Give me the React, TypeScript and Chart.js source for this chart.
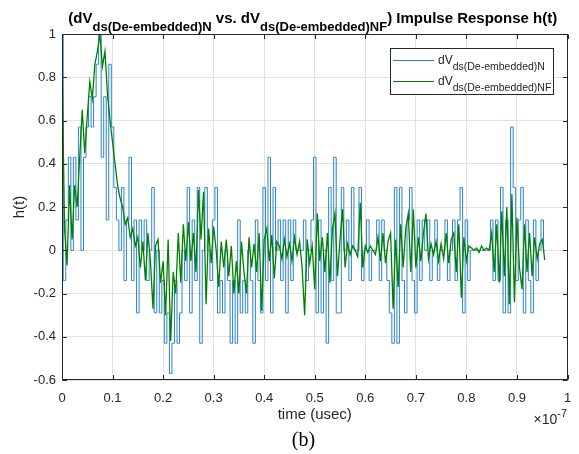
import React, { useEffect, useRef } from 'react';
import { Chart, registerables } from 'chart.js';

Chart.register(...registerables);

// sample spacing on the time axis (axis is in units of 1e-7 s)
const TIME_STEP = 0.005;

// dV ds(De-embedded)N  (blue, quantised)
const seriesN: number[] = [
  1.0, -0.14, 0.14, 0.43, 0.0, 0.43, 0.14, 0.57, 0.0, 0.43,
  0.57, 0.71, 0.57, 0.71, 0.86, 1.0, 0.43, 0.71, 0.14, 0.86,
  0.57, 0.29, 0.14, 0.0, 0.29, -0.14, 0.14, 0.43, -0.14, 0.14,
  -0.29, 0.14, 0.0, 0.14, -0.14, 0.0, 0.29, -0.29, 0.0, -0.29,
  -0.14, -0.43, -0.29, -0.57, -0.43, -0.14, -0.43, -0.29, 0.0, -0.14,
  0.29, -0.29, 0.14, -0.14, 0.29, -0.43, 0.0, 0.29, 0.0, -0.14,
  0.14, 0.29, -0.29, -0.14, -0.29, 0.0, -0.14, -0.43, -0.14, -0.43,
  0.14, -0.29, -0.14, -0.29, 0.0, -0.14, -0.43, 0.14, -0.14, -0.29,
  0.29, -0.14, 0.43, -0.29, 0.29, 0.0, 0.14, -0.14, 0.14, -0.29,
  0.14, -0.14, 0.14, 0.0, 0.0, 0.0, 0.14, -0.14, 0.0, 0.14,
  0.43, -0.29, 0.14, -0.29, 0.0, -0.43, 0.29, -0.14, 0.43, -0.29,
  -0.29, 0.29, 0.0, 0.14, -0.14, 0.29, 0.0, 0.0, 0.29, -0.14,
  0.0, 0.14, -0.14, 0.0, 0.0, 0.14, -0.14, 0.14, 0.0, -0.14,
  -0.29, -0.43, 0.29, -0.43, 0.29, -0.14, -0.29, 0.14, 0.29, -0.14,
  -0.29, 0.14, -0.14, 0.14, 0.0, 0.14, -0.14, 0.0, 0.14, -0.14,
  0.0, 0.0, 0.14, -0.14, 0.0, 0.14, -0.14, 0.14, 0.29, -0.29,
  0.14, -0.14, 0.0, 0.0, 0.0, 0.0, 0.0, 0.0, 0.0, 0.0,
  0.14, -0.14, 0.14, -0.14, 0.29, -0.29, 0.14, -0.29, 0.57, 0.29,
  -0.14, 0.14, 0.29, -0.29, 0.14, -0.14, -0.29, 0.14, -0.14, 0.0,
  0.14, 0.0,
];

// dV ds(De-embedded)NF  (green)
const seriesNF: number[] = [
  0.9, 0.1, -0.07, 0.3, 0.05, 0.3, 0.2, 0.43, 0.65, 0.45,
  0.62, 0.78, 0.7, 0.86, 0.92, 1.0, 0.85, 0.92, 0.72, 0.6,
  0.5, 0.4, 0.3, 0.24, 0.2, 0.12, 0.15, 0.06, 0.1, 0.02,
  0.06, -0.08, 0.04, -0.14, 0.08, -0.05, -0.27, 0.02, 0.05, -0.15,
  -0.05, -0.3, 0.05, -0.42, -0.1, -0.2, 0.08, -0.15, 0.12, -0.05,
  0.13, -0.05, 0.08, -0.1, 0.28, 0.05, 0.27, -0.25, 0.1, -0.06,
  0.11, 0.0, -0.17, 0.04, -0.08, 0.05, -0.12, 0.02, -0.2, -0.05,
  -0.2, 0.04, -0.1, -0.2, 0.06, -0.08, 0.03, -0.1, 0.08, -0.28,
  0.05, 0.1, -0.05, 0.07, -0.13, 0.04, 0.02, -0.04, 0.05, -0.03,
  0.03, -0.05, 0.06, -0.02, 0.04, -0.08, -0.3, 0.05, -0.06, 0.02,
  -0.18, 0.17, -0.05, 0.06, -0.1, 0.08, -0.15, 0.1, 0.17, -0.12,
  0.05, 0.19, -0.08, 0.03, -0.02, 0.02, 0.0, -0.03, 0.22, -0.08,
  0.02, -0.01, 0.02, 0.0, -0.02, 0.06, -0.05, 0.08, -0.06, 0.04,
  0.08, -0.27, 0.05, -0.17, 0.12, -0.08, 0.1, 0.17, -0.1, 0.19,
  -0.08, 0.06, -0.05, 0.08, 0.17, -0.04, 0.03, -0.02, 0.04, -0.05,
  0.03, -0.04, 0.08, -0.06, 0.05, 0.08, -0.1, 0.12, -0.22, 0.06,
  -0.05, 0.02, 0.01, 0.0, 0.01, -0.01, 0.02, 0.0, 0.01, 0.0,
  0.08, -0.1, 0.12, -0.15, 0.18, -0.12, 0.2, -0.25, 0.26, -0.24,
  0.15, -0.08, -0.18, 0.12, -0.1, 0.08, -0.12, 0.06, -0.04, 0.03,
  0.05, -0.045,
];

const xTickValues = [0, 0.1, 0.2, 0.3, 0.4, 0.5, 0.6, 0.7, 0.8, 0.9, 1];
const xTickLabels = ['0', '0.1', '0.2', '0.3', '0.4', '0.5', '0.6', '0.7', '0.8', '0.9', '1'];
const yTickValues = [-0.6, -0.4, -0.2, 0, 0.2, 0.4, 0.6, 0.8, 1];
const yTickLabels = ['-0.6', '-0.4', '-0.2', '0', '0.2', '0.4', '0.6', '0.8', '1'];

const legendMain = ['dV', 'dV'];
const legendSub = ['ds(De-embedded)N', 'ds(De-embedded)NF'];

const titleParts: { text: string; sub: boolean }[] = [
  { text: '(dV', sub: false },
  { text: 'ds(De-embedded)N', sub: true },
  { text: ' vs. dV', sub: false },
  { text: 'ds(De-embedded)NF', sub: true },
  { text: ') Impulse Response h(t)', sub: false },
];

const xAxisTitle = 'time (usec)';
const yAxisTitle = 'h(t)';
const exponentBase = '\u00d710';
const exponentPower = '-7';
const caption = '(b)';

const BLUE = '#2a84c9';
const GREEN = '#008000';
const AXIS = '#262626';
const SANS = '"Liberation Sans", Arial, Helvetica, sans-serif';
const SERIF = '"Liberation Serif", "Times New Roman", serif';

const toPoints = (vals: number[]) => vals.map((v, i) => ({ x: i * TIME_STEP, y: v }));

const overlay = {
  id: 'overlay',
  beforeDraw(chart: any) {
    const { ctx, width, height } = chart;
    ctx.save();
    ctx.fillStyle = '#ffffff';
    ctx.fillRect(0, 0, width, height);
    ctx.restore();
  },
  afterDraw(chart: any) {
    const { ctx, chartArea: a } = chart;
    const xs = chart.scales.x;
    const ys = chart.scales.y;
    const L = Math.round(a.left) + 0.5;
    const R = Math.round(a.right) - 0.5;
    const T = Math.round(a.top) + 0.5;
    const B = Math.round(a.bottom) - 0.5;
    ctx.save();

    // axes box
    ctx.strokeStyle = AXIS;
    ctx.lineWidth = 1;
    ctx.strokeRect(L, T, R - L, B - T);

    // inward tick marks
    const TL = 4.5;
    ctx.beginPath();
    xTickValues.forEach((v) => {
      const px = Math.round(xs.getPixelForValue(v)) + 0.5;
      ctx.moveTo(px, B); ctx.lineTo(px, B - TL);
      ctx.moveTo(px, T); ctx.lineTo(px, T + TL);
    });
    yTickValues.forEach((v) => {
      const py = Math.round(ys.getPixelForValue(v)) + 0.5;
      ctx.moveTo(L, py); ctx.lineTo(L + TL, py);
      ctx.moveTo(R, py); ctx.lineTo(R - TL, py);
    });
    ctx.stroke();

    // tick labels
    ctx.fillStyle = AXIS;
    ctx.font = `13px ${SANS}`;
    ctx.textAlign = 'center';
    ctx.textBaseline = 'alphabetic';
    xTickValues.forEach((v, i) => {
      ctx.fillText(xTickLabels[i], xs.getPixelForValue(v), 401.5);
    });
    ctx.textAlign = 'right';
    ctx.textBaseline = 'middle';
    yTickValues.forEach((v, i) => {
      ctx.fillText(yTickLabels[i], 56, ys.getPixelForValue(v));
    });

    // axis titles
    ctx.font = `15px ${SANS}`;
    ctx.textAlign = 'center';
    ctx.textBaseline = 'alphabetic';
    ctx.fillText(xAxisTitle, (a.left + a.right) / 2, 419);
    ctx.save();
    ctx.translate(20, (a.top + a.bottom) / 2);
    ctx.rotate(-Math.PI / 2);
    ctx.textBaseline = 'middle';
    ctx.fillText(yAxisTitle, 0, 0);
    ctx.restore();

    // x10^-7 exponent
    ctx.textAlign = 'left';
    ctx.font = `11px ${SANS}`;
    const pw = ctx.measureText(exponentPower).width;
    ctx.font = `14px ${SANS}`;
    const bw = ctx.measureText(exponentBase).width;
    const ex = 567 - pw - bw;
    ctx.fillText(exponentBase, ex, 424);
    ctx.font = `11px ${SANS}`;
    ctx.fillText(exponentPower, ex + bw, 416.5);

    // title with subscripts
    const fMain = `bold 15px ${SANS}`;
    const fSub = `bold 13px ${SANS}`;
    let total = 0;
    titleParts.forEach((p) => {
      ctx.font = p.sub ? fSub : fMain;
      total += ctx.measureText(p.text).width;
    });
    let tx = (a.left + a.right) / 2 - 2 - total / 2;
    ctx.fillStyle = '#000000';
    titleParts.forEach((p) => {
      ctx.font = p.sub ? fSub : fMain;
      ctx.fillText(p.text, tx, p.sub ? 30.5 : 23);
      tx += ctx.measureText(p.text).width;
    });

    // legend
    const lx = 390.5, ly = 48.5, lw = 163, lh = 46;
    ctx.fillStyle = '#ffffff';
    ctx.fillRect(lx, ly, lw, lh);
    ctx.strokeStyle = AXIS;
    ctx.lineWidth = 1;
    ctx.strokeRect(lx, ly, lw, lh);
    const rows = [60.5, 81.5];
    const colors = [BLUE, GREEN];
    rows.forEach((ry, i) => {
      ctx.strokeStyle = colors[i];
      ctx.lineWidth = 1;
      ctx.beginPath();
      ctx.moveTo(393, ry);
      ctx.lineTo(434, ry);
      ctx.stroke();
      ctx.fillStyle = AXIS;
      ctx.font = `12px ${SANS}`;
      ctx.fillText(legendMain[i], 438, ry + 3.5);
      const mw = ctx.measureText(legendMain[i]).width;
      ctx.font = `10.5px ${SANS}`;
      ctx.fillText(legendSub[i], 438 + mw, ry + 9);
    });

    // caption
    ctx.fillStyle = '#000000';
    ctx.font = `20px ${SERIF}`;
    ctx.textAlign = 'center';
    ctx.fillText(caption, 303.5, 446);

    ctx.restore();
  },
};

export default function App() {
  const canvasRef = useRef<HTMLCanvasElement | null>(null);

  useEffect(() => {
    const canvas = canvasRef.current;
    if (!canvas) return;
    const chart = new Chart(canvas, {
      type: 'line',
      data: {
        datasets: [
          {
            label: 'dV ds(De-embedded)N',
            data: toPoints(seriesN),
            borderColor: BLUE,
            borderWidth: 1,
            pointRadius: 0,
            stepped: 'middle',
            fill: false,
            order: 2,
          },
          {
            label: 'dV ds(De-embedded)NF',
            data: toPoints(seriesNF),
            borderColor: GREEN,
            borderWidth: 1.3,
            pointRadius: 0,
            tension: 0,
            fill: false,
            order: 1,
          },
        ],
      },
      options: {
        responsive: false,
        devicePixelRatio: 1,
        animation: false,
        events: [],
        layout: { padding: { left: 62, top: 34, right: 11.5, bottom: 74 } },
        plugins: {
          legend: { display: false },
          title: { display: false },
          tooltip: { enabled: false },
        },
        scales: {
          x: {
            type: 'linear',
            min: 0,
            max: 1,
            afterBuildTicks: (s: any) => {
              s.ticks = xTickValues.map((v) => ({ value: v }));
            },
            ticks: { display: false },
            grid: { color: '#e2e2e2', lineWidth: 1, drawTicks: false },
            border: { display: false },
          },
          y: {
            type: 'linear',
            min: -0.6,
            max: 1,
            afterBuildTicks: (s: any) => {
              s.ticks = yTickValues.map((v) => ({ value: v }));
            },
            ticks: { display: false },
            grid: { color: '#e2e2e2', lineWidth: 1, drawTicks: false },
            border: { display: false },
          },
        },
      },
      plugins: [overlay],
    } as any);
    return () => chart.destroy();
  }, []);

  return (
    <div style={{ position: 'fixed', left: 0, top: 0, width: 579, height: 454, background: '#ffffff' }}>
      <canvas ref={canvasRef} width={579} height={454} style={{ display: 'block', width: 579, height: 454 }} />
    </div>
  );
}
